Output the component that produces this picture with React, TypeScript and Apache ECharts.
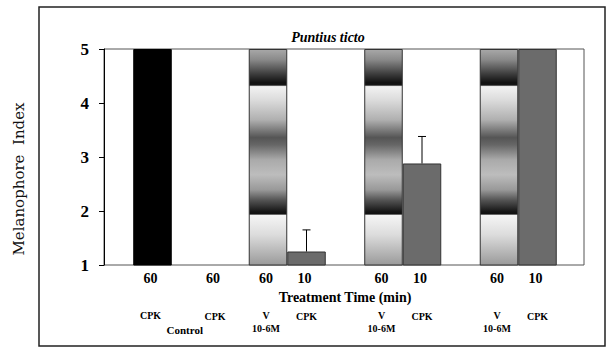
import React, { useEffect, useRef } from 'react';
import * as echarts from 'echarts';

// ---- data ----
const groups = ['Control', 'V + CPK (a)', 'V + CPK (b)', 'V + CPK (c)'];
const firstBarValues = [5, 5, 5, 5];
const secondBarValues = [1, 1.25, 2.88, 5];
const secondBarErrors = [0, 0.4, 0.5, 0];
const firstBarTimes = ['60', '60', '60', '60'];
const secondBarTimes = ['60', '10', '10', '10'];
const firstBarTreatments = [['CPK'], ['V', '10-6M'], ['V', '10-6M'], ['V', '10-6M']];
const secondBarTreatments = [['CPK'], ['CPK'], ['CPK'], ['CPK']];
const groupNotes = ['Control', '', '', ''];
const yTicks = [1, 2, 3, 4, 5];
const titleText = 'Puntius ticto';
const xTitle = 'Treatment Time (min)';
const yTitle = 'Melanophore  Index';

// layout-only: horizontal shift of the second bar's labels in each group (px)
const secondLabelShift = [24, 0, 0, 0];

const SERIF = 'Liberation Serif';

const stripes = new echarts.graphic.LinearGradient(0, 0, 0, 1, [
  { offset: 0, color: '#a8a8a8' },
  { offset: 0.047, color: '#8a8a8a' },
  { offset: 0.116, color: '#3a3a3a' },
  { offset: 0.154, color: '#111111' },
  { offset: 0.165, color: '#151515' },
  { offset: 0.172, color: '#f2f2f2' },
  { offset: 0.233, color: '#dcdcdc' },
  { offset: 0.326, color: '#b0b0b0' },
  { offset: 0.409, color: '#555555' },
  { offset: 0.442, color: '#666666' },
  { offset: 0.512, color: '#aaaaaa' },
  { offset: 0.581, color: '#bdbdbd' },
  { offset: 0.651, color: '#999999' },
  { offset: 0.698, color: '#555555' },
  { offset: 0.753, color: '#151515' },
  { offset: 0.763, color: '#111111' },
  { offset: 0.77, color: '#f5f5f5' },
  { offset: 0.86, color: '#dcdcdc' },
  { offset: 1, color: '#9a9a9a' },
]);

function txt(text: string, x: number, y: number, size: number) {
  return {
    type: 'text',
    x,
    y,
    style: {
      text,
      fontFamily: SERIF,
      fontSize: size,
      fontWeight: 'bold',
      fill: '#000',
      align: 'center',
      verticalAlign: 'middle',
    },
  };
}

export default function App() {
  const ref = useRef<HTMLDivElement>(null);
  useEffect(() => {
    const chart = echarts.init(ref.current!, null, { renderer: 'svg' });
    const option: any = {
      animation: false,
      backgroundColor: '#ffffff',
      title: {
        text: titleText,
        left: 323,
        top: 25,
        textAlign: 'center',
        textStyle: { fontFamily: SERIF, fontSize: 14, fontWeight: 'bold', fontStyle: 'italic', color: '#000' },
      },
      grid: { left: 114, right: 30, top: 49, bottom: 82, containLabel: false },
      xAxis: {
        type: 'category',
        data: groups,
        axisLine: { show: false },
        axisTick: { show: false },
        axisLabel: { show: false },
        name: xTitle,
        nameLocation: 'middle',
        nameGap: 25,
        nameTextStyle: { fontFamily: SERIF, fontSize: 14, fontWeight: 'bold', color: '#000' },
      },
      yAxis: {
        type: 'value',
        min: yTicks[0],
        max: yTicks[yTicks.length - 1],
        interval: 1,
        offset: 10,
        splitLine: { show: false },
        axisLine: { show: true, lineStyle: { color: '#000', width: 1 } },
        axisTick: { show: true, length: 5, lineStyle: { color: '#000' } },
        axisLabel: { fontFamily: SERIF, fontSize: 17, fontWeight: 'bold', color: '#000', margin: 15 },
      },
      graphic: [
        {
          type: 'rect',
          shape: { x: 39, y: 7, width: 566, height: 339 },
          style: { fill: 'none', stroke: '#222', lineWidth: 1.5 },
          z: 0,
          silent: true,
        },
        {
          type: 'rect',
          shape: { x: 104, y: 49, width: 480, height: 216 },
          style: { fill: 'none', stroke: '#555', lineWidth: 1 },
          z: 0,
          silent: true,
        },
        {
          type: 'text',
          x: 19,
          y: 179,
          rotation: Math.PI / 2,
          style: {
            text: yTitle,
            fontFamily: 'DejaVu Serif',
            fontSize: 15,
            fill: '#111',
            align: 'center',
            verticalAlign: 'middle',
          },
        },
      ],
      series: [
        {
          type: 'bar',
          barGap: '0%',
          barCategoryGap: '33.33%',
          data: firstBarValues.map((v, i) => ({
            value: v,
            itemStyle: i === 0 ? { color: '#000', borderColor: '#000', borderWidth: 1 } : { color: stripes, borderColor: '#333', borderWidth: 1 },
          })),
        },
        {
          type: 'bar',
          barGap: '0%',
          barCategoryGap: '33.33%',
          itemStyle: { color: '#6b6b6b', borderColor: '#333', borderWidth: 1 },
          data: secondBarValues,
        },
        {
          type: 'custom',
          z: 5,
          data: secondBarValues.map((v, i) => [i, v, secondBarErrors[i]]),
          encode: { x: 0, y: 1 },
          renderItem: (params: any, api: any) => {
            const i = api.value(0);
            const v = api.value(1);
            const e = api.value(2);
            if (!e) return { type: 'group', children: [] };
            const base = api.coord([i, v]);
            const top = api.coord([i, v + e]);
            const band = api.size([1, 0])[0];
            const x = base[0] + band / 6;
            const st = { stroke: '#000', lineWidth: 1 };
            return {
              type: 'group',
              children: [
                { type: 'line', shape: { x1: x, y1: base[1], x2: x, y2: top[1] }, style: st },
                { type: 'line', shape: { x1: x - 4, y1: top[1], x2: x + 4, y2: top[1] }, style: st },
              ],
            };
          },
        },
        {
          type: 'custom',
          z: 6,
          clip: false,
          silent: true,
          data: groups.map((_, i) => [i, yTicks[0]]),
          encode: { x: 0, y: 1 },
          renderItem: (params: any, api: any) => {
            const i = api.value(0);
            const c = api.coord([i, yTicks[0]]);
            const band = api.size([1, 0])[0];
            const barW = band / 3;
            const xA = c[0] - barW / 2;
            const xB = c[0] + barW / 2 + secondLabelShift[i];
            const b = c[1];
            const kids: any[] = [];
            kids.push(txt(firstBarTimes[i], xA - 2, b + 13, 14));
            kids.push(txt(secondBarTimes[i], xB - 2, b + 13, 14));
            firstBarTreatments[i].forEach((s, k) => kids.push(txt(s, xA - 2, b + 50 + k * 13, 10)));
            secondBarTreatments[i].forEach((s, k) => kids.push(txt(s, xB, b + 51 + k * 13, 10)));
            if (groupNotes[i]) kids.push(txt(groupNotes[i], c[0] + 13, b + 65, 11));
            return { type: 'group', children: kids };
          },
        },
      ],
    };
    chart.setOption(option);
    return () => chart.dispose();
  }, []);
  return <div ref={ref} style={{ position: 'fixed', left: 0, top: 0, width: 606, height: 347 }} />;
}
